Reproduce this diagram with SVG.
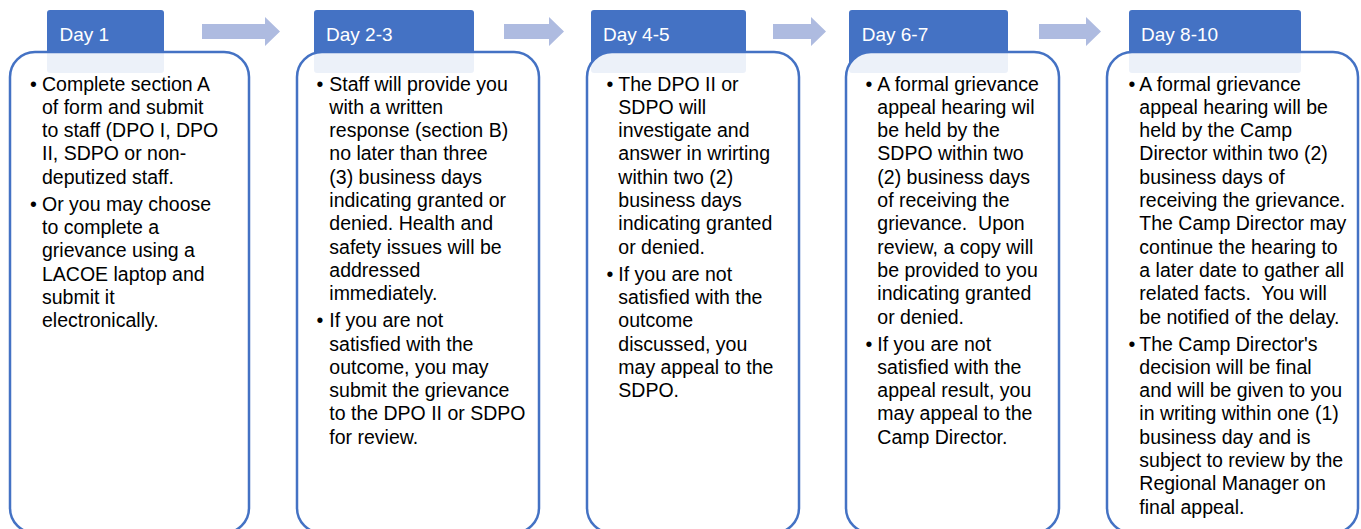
<svg xmlns="http://www.w3.org/2000/svg" width="1361" height="529" viewBox="0 0 1361 529">
<style>
.tab{fill:#4472C4}
.box{fill:#fff;fill-opacity:0.9;stroke:#4472C4;stroke-width:2.5}
.hd{font-family:"Liberation Sans",Arial,sans-serif;font-size:19px;fill:#fff}
.bd{font-family:"Liberation Sans",Arial,sans-serif;font-size:19.5px;fill:#000;white-space:pre}
.arr{fill:#AEBBE0}
</style>
<rect width="1361" height="529" fill="#fff"/>
<g id="connectors">
<polygon class="arr" points="202,24 265,24 265,17 280,31.5 265,46 265,39 202,39"/>
<polygon class="arr" points="504,24 549,24 549,17 564,31.5 549,46 549,39 504,39"/>
<polygon class="arr" points="773,24 811,24 811,17 826,31.5 811,46 811,39 773,39"/>
<polygon class="arr" points="1039,24 1086,24 1086,17 1101,31.5 1086,46 1086,39 1039,39"/>
</g>
<g id="day1">
<rect class="tab" x="47" y="10" width="117" height="63" rx="3"/>
<rect class="box" x="10" y="52" width="239" height="481" rx="25"/>
<text class="hd" x="59.5" y="40.5">Day 1</text>
<text class="bd" x="30" y="90.5">•<tspan x="30" dy="120.2">•</tspan></text>
<text class="bd" y="90.5"><tspan x="42">Complete section A</tspan><tspan x="42" dy="23.3">of form and submit</tspan><tspan x="42" dy="23.3">to staff (DPO I, DPO</tspan><tspan x="42" dy="23.3">II, SDPO or non-</tspan><tspan x="42" dy="23.3">deputized staff.</tspan><tspan x="42" dy="27">Or you may choose</tspan><tspan x="42" dy="23.3">to complete a</tspan><tspan x="42" dy="23.3">grievance using a</tspan><tspan x="42" dy="23.3">LACOE laptop and</tspan><tspan x="42" dy="23.3">submit it</tspan><tspan x="42" dy="23.3">electronically.</tspan></text>
</g>
<g id="day2-3">
<rect class="tab" x="314" y="10" width="160" height="63" rx="3"/>
<rect class="box" x="297" y="52" width="242" height="481" rx="25"/>
<text class="hd" x="326" y="40.5">Day 2-3</text>
<text class="bd" x="316.6" y="90.5">•<tspan x="316.6" dy="236.7">•</tspan></text>
<text class="bd" y="90.5"><tspan x="329.3">Staff will provide you</tspan><tspan x="329.3" dy="23.3">with a written</tspan><tspan x="329.3" dy="23.3">response (section B)</tspan><tspan x="329.3" dy="23.3">no later than three</tspan><tspan x="329.3" dy="23.3">(3) business days</tspan><tspan x="329.3" dy="23.3">indicating granted or</tspan><tspan x="329.3" dy="23.3">denied. Health and</tspan><tspan x="329.3" dy="23.3">safety issues will be</tspan><tspan x="329.3" dy="23.3">addressed</tspan><tspan x="329.3" dy="23.3">immediately.</tspan><tspan x="329.3" dy="27">If you are not</tspan><tspan x="329.3" dy="23.3">satisfied with the</tspan><tspan x="329.3" dy="23.3">outcome, you may</tspan><tspan x="329.3" dy="23.3">submit the grievance</tspan><tspan x="329.3" dy="23.3">to the DPO II or SDPO</tspan><tspan x="329.3" dy="23.3">for review.</tspan></text>
</g>
<g id="day4-5">
<rect class="tab" x="591" y="10" width="155" height="63" rx="3"/>
<rect class="box" x="587" y="52" width="212" height="481" rx="25"/>
<text class="hd" x="603" y="40.5">Day 4-5</text>
<text class="bd" x="606.6" y="90.5">•<tspan x="606.6" dy="190.1">•</tspan></text>
<text class="bd" y="90.5"><tspan x="618.3">The DPO II or</tspan><tspan x="618.3" dy="23.3">SDPO will</tspan><tspan x="618.3" dy="23.3">investigate and</tspan><tspan x="618.3" dy="23.3">answer in wrirting</tspan><tspan x="618.3" dy="23.3">within two (2)</tspan><tspan x="618.3" dy="23.3">business days</tspan><tspan x="618.3" dy="23.3">indicating granted</tspan><tspan x="618.3" dy="23.3">or denied.</tspan><tspan x="618.3" dy="27">If you are not</tspan><tspan x="618.3" dy="23.3">satisfied with the</tspan><tspan x="618.3" dy="23.3">outcome</tspan><tspan x="618.3" dy="23.3">discussed, you</tspan><tspan x="618.3" dy="23.3">may appeal to the</tspan><tspan x="618.3" dy="23.3">SDPO.</tspan></text>
</g>
<g id="day6-7">
<rect class="tab" x="849" y="10" width="159" height="63" rx="3"/>
<rect class="box" x="846" y="52" width="213" height="481" rx="25"/>
<text class="hd" x="861.7" y="40.5">Day 6-7</text>
<text class="bd" x="865.6" y="90.5">•<tspan x="865.6" dy="260">•</tspan></text>
<text class="bd" y="90.5"><tspan x="877.3">A formal grievance</tspan><tspan x="877.3" dy="23.3">appeal hearing wil</tspan><tspan x="877.3" dy="23.3">be held by the</tspan><tspan x="877.3" dy="23.3">SDPO within two</tspan><tspan x="877.3" dy="23.3">(2) business days</tspan><tspan x="877.3" dy="23.3">of receiving the</tspan><tspan x="877.3" dy="23.3">grievance.  Upon</tspan><tspan x="877.3" dy="23.3">review, a copy will</tspan><tspan x="877.3" dy="23.3">be provided to you</tspan><tspan x="877.3" dy="23.3">indicating granted</tspan><tspan x="877.3" dy="23.3">or denied.</tspan><tspan x="877.3" dy="27">If you are not</tspan><tspan x="877.3" dy="23.3">satisfied with the</tspan><tspan x="877.3" dy="23.3">appeal result, you</tspan><tspan x="877.3" dy="23.3">may appeal to the</tspan><tspan x="877.3" dy="23.3">Camp Director.</tspan></text>
</g>
<g id="day8-10">
<rect class="tab" x="1129" y="10" width="172" height="63" rx="3"/>
<rect class="box" x="1107" y="52" width="251" height="481" rx="25"/>
<text class="hd" x="1141" y="40.5">Day 8-10</text>
<text class="bd" x="1128.6" y="90.5">•<tspan x="1128.6" dy="260">•</tspan></text>
<text class="bd" y="90.5"><tspan x="1139.3">A formal grievance</tspan><tspan x="1139.3" dy="23.3">appeal hearing will be</tspan><tspan x="1139.3" dy="23.3">held by the Camp</tspan><tspan x="1139.3" dy="23.3">Director within two (2)</tspan><tspan x="1139.3" dy="23.3">business days of</tspan><tspan x="1139.3" dy="23.3">receiving the grievance.</tspan><tspan x="1139.3" dy="23.3">The Camp Director may</tspan><tspan x="1139.3" dy="23.3">continue the hearing to</tspan><tspan x="1139.3" dy="23.3">a later date to gather all</tspan><tspan x="1139.3" dy="23.3">related facts.  You will</tspan><tspan x="1139.3" dy="23.3">be notified of the delay.</tspan><tspan x="1139.3" dy="27">The Camp Director's</tspan><tspan x="1139.3" dy="23.3">decision will be final</tspan><tspan x="1139.3" dy="23.3">and will be given to you</tspan><tspan x="1139.3" dy="23.3">in writing within one (1)</tspan><tspan x="1139.3" dy="23.3">business day and is</tspan><tspan x="1139.3" dy="23.3">subject to review by the</tspan><tspan x="1139.3" dy="23.3">Regional Manager on</tspan><tspan x="1139.3" dy="23.3">final appeal.</tspan></text>
</g>
</svg>
